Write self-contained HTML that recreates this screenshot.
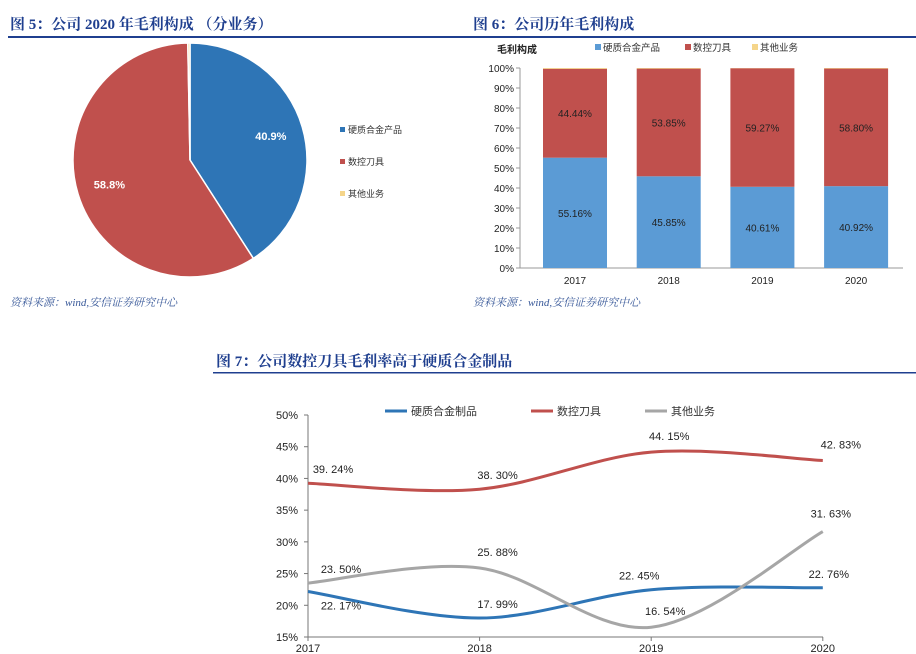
<!DOCTYPE html>
<html><head><meta charset="utf-8"><style>
body{margin:0;width:916px;height:654px;background:#fff;overflow:hidden;font-family:"Liberation Sans","Noto Sans CJK SC",sans-serif}
svg{position:absolute;left:0;top:0}
</style></head><body>
<svg width="916" height="654">
<g font-family="'Liberation Serif','Noto Serif CJK SC',serif" font-weight="bold" fill="#1f3f8f" font-size="15">
<text x="10" y="29">图 5：公司 2020 年毛利构成 （分业务）</text>
<text x="473" y="29">图 6：公司历年毛利构成</text>
<text x="216" y="366">图 7：公司数控刀具毛利率高于硬质合金制品</text>
</g>
<rect x="8" y="36" width="908" height="2" fill="#1f3f8f"/>
<rect x="213" y="372" width="703" height="1.5" fill="#1f3f8f"/>
<g font-family="'Liberation Serif','Noto Serif CJK SC',serif" font-style="italic" fill="#3a5a9a" font-size="11">
<text x="10" y="306">资料来源：wind,安信证券研究中心</text>
<text x="473" y="306">资料来源：wind,安信证券研究中心</text>
</g>
<g id="pie"></g><g id="bars"></g><g id="lines"></g>
</svg>
<script>
const NS="http://www.w3.org/2000/svg";
function mk(p,t,a){const e=document.createElementNS(NS,t);for(const k in a)e.setAttribute(k,a[k]);p.appendChild(e);return e;}
// ---- pie
const pieLabels=["硬质合金产品","数控刀具","其他业务"];
const pieValues=[40.9,58.8,0.3];
const pieColors=["#2e75b6","#c0504d","#f5d58a"];
const pg=document.getElementById('pie');
const cx=190,cy=160,R=117;let ang=0;const tot=pieValues.reduce((a,b)=>a+b,0);
pieValues.forEach((v,i)=>{
 const a0=ang,a1=ang+v/tot*2*Math.PI;ang=a1;
 const x0=cx+R*Math.sin(a0),y0=cy-R*Math.cos(a0),x1=cx+R*Math.sin(a1),y1=cy-R*Math.cos(a1);
 const p=mk(pg,'path',{d:`M${cx},${cy}L${x0},${y0}A${R},${R} 0 ${a1-a0>Math.PI?1:0} 1 ${x1},${y1}Z`,fill:pieColors[i],stroke:'#fff','stroke-width':1.5});
 
 
 if(v>5){const m=(a0+a1)/2;const t=mk(pg,'text',{x:cx+R*0.72*Math.sin(m),y:cy-R*0.72*Math.cos(m)+4,'text-anchor':'middle',fill:'#fff','font-size':11,'font-weight':'bold'});t.textContent=v.toFixed(1)+'%';
 
 }
 const lg=mk(pg,'g',{});
 
 
 mk(lg,'rect',{x:340,y:127+i*32,width:5,height:5,fill:pieColors[i]});
 const lt=mk(lg,'text',{x:348,y:133+i*32,'font-size':9,fill:'#333'});lt.textContent=pieLabels[i];
});
// ---- stacked bars
const barYears=["2017","2018","2019","2020"];
const barBlue=[55.16,45.85,40.61,40.92];
const barRed=[44.44,53.85,59.27,58.80];
const barTicks=[0,10,20,30,40,50,60,70,80,90,100];
const bg=document.getElementById('bars');
const bx=i=>575+i*93.7, by=v=>268-v*2;
mk(bg,'line',{x1:520,y1:268,x2:903,y2:268,stroke:'#999'});
mk(bg,'line',{x1:520,y1:68,x2:520,y2:268,stroke:'#999'});
barTicks.forEach(t=>{mk(bg,'line',{x1:516,y1:by(t),x2:520,y2:by(t),stroke:'#999'});const tx=mk(bg,'text',{x:514,y:by(t)+4,'text-anchor':'end','font-size':10,fill:'#222'});tx.textContent=t+'%';
 
 });
const t0=mk(bg,'text',{x:497,y:53,'font-size':10,'font-weight':'bold',fill:'#222'});t0.textContent='毛利构成';


[["硬质合金产品","#5b9bd5",595],["数控刀具","#c0504d",685],["其他业务","#f5d58a",752]].forEach((l,i)=>{
 const g=mk(bg,'g',{});
 
 
 mk(g,'rect',{x:l[2],y:44,width:6,height:6,fill:l[1]});const t=mk(g,'text',{x:l[2]+8,y:51,'font-size':9.5,fill:'#333'});t.textContent=l[0];});
barYears.forEach((y,i)=>{
 const x=bx(i)-32,w=64,b=barBlue[i],r=barRed[i];
 const rb=mk(bg,'rect',{x,y:by(b),width:w,height:b*2,fill:'#5b9bd5'});
 
 
 const rr=mk(bg,'rect',{x,y:by(b+r),width:w,height:r*2,fill:'#c0504d'});
 
 
 const ro=mk(bg,'rect',{x,y:by(100),width:w,height:(100-b-r)*2,fill:'#f5d58a'});
 
 
 const l1=mk(bg,'text',{x:bx(i),y:by(b/2)+4,'text-anchor':'middle','font-size':10,fill:'#222'});l1.textContent=b.toFixed(2)+'%';
 
 
 const l2=mk(bg,'text',{x:bx(i),y:by(b+r/2)+4,'text-anchor':'middle','font-size':10,fill:'#222'});l2.textContent=r.toFixed(2)+'%';
 
 
 const xl=mk(bg,'text',{x:bx(i),y:284,'text-anchor':'middle','font-size':10,fill:'#222'});xl.textContent=y;
 
 
});
// ---- line chart
const lineYears=["2017","2018","2019","2020"];
const hardAlloy=[22.17,17.99,22.45,22.76];
const cncTools=[39.24,38.30,44.15,42.83];
const otherBiz=[23.50,25.88,16.54,31.63];
const lineTicks=[15,20,25,30,35,40,45,50];
const lg=document.getElementById('lines');
const lx=i=>308+i*171.6, ly=v=>637-(v-15)*(222/35);
mk(lg,'line',{x1:308,y1:415,x2:308,y2:637,stroke:'#777'});
mk(lg,'line',{x1:308,y1:637,x2:823,y2:637,stroke:'#777'});
lineTicks.forEach(t=>{mk(lg,'line',{x1:304,y1:ly(t),x2:308,y2:ly(t),stroke:'#777'});const tx=mk(lg,'text',{x:298,y:ly(t)+4,'text-anchor':'end','font-size':11,fill:'#222'});tx.textContent=t+'%';
 
 });
lineYears.forEach((y,i)=>{mk(lg,'line',{x1:lx(i),y1:637,x2:lx(i),y2:641,stroke:'#777'});const t=mk(lg,'text',{x:lx(i),y:652,'text-anchor':'middle','font-size':11,fill:'#222'});t.textContent=y;
 
 });
function smooth(vals){const p=vals.map((v,i)=>[lx(i),ly(v)]);let d=`M${p[0][0]},${p[0][1]}`;
 for(let i=0;i<p.length-1;i++){const a=p[i-1]||p[i],b=p[i],c=p[i+1],e=p[i+2]||c;
 d+=`C${b[0]+(c[0]-a[0])/6},${b[1]+(c[1]-a[1])/6} ${c[0]-(e[0]-b[0])/6},${c[1]-(e[1]-b[1])/6} ${c[0]},${c[1]}`;}return d;}
const series=[["硬质合金制品",hardAlloy,"#2e75b6",[[8,18],[0,-10],[-30,-10],[-12,-10]]],["数控刀具",cncTools,"#c0504d",[[0,-10],[0,-10],[0,-12],[0,-12]]],["其他业务",otherBiz,"#a6a6a6",[[8,-10],[0,-12],[-4,-12],[-10,-14]]]];
series.forEach((s,k)=>{
 const p=mk(lg,'path',{d:smooth(s[1]),fill:'none',stroke:s[2],'stroke-width':3});
 
 
 s[1].forEach((v,i)=>{const t=mk(lg,'text',{x:lx(i)+s[3][i][0]+18,y:ly(v)+s[3][i][1],'text-anchor':'middle','font-size':11,fill:'#222'});
 if(i===0)t.setAttribute('x',lx(i)+s[3][i][0]+25);
 t.textContent=v.toFixed(2).replace('.','. ')+'%';
 
 });
 const g=mk(lg,'g',{});
 
 
 const x0=[385,531,645][k];
 mk(g,'line',{x1:x0,y1:411,x2:x0+22,y2:411,stroke:s[2],'stroke-width':3});
 const t=mk(g,'text',{x:x0+26,y:415,'font-size':11,fill:'#333'});t.textContent=s[0];
});
</script>
</body></html>
